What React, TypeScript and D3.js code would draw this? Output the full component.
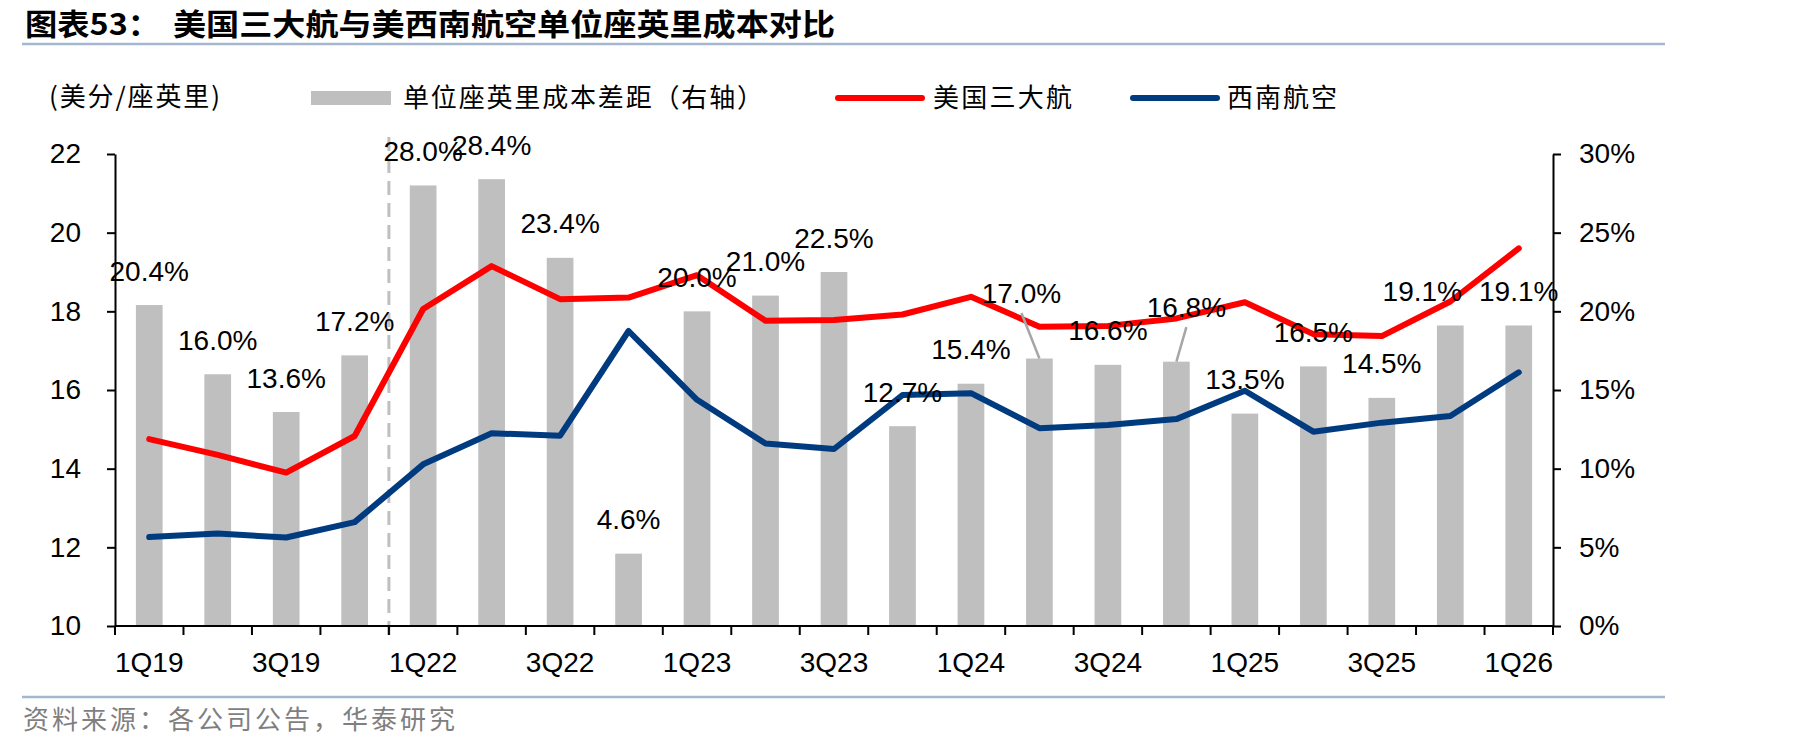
import React, { useRef, useEffect } from 'react';
import * as d3 from 'd3';

// Quarterly data
const categories = [
  '1Q19', '2Q19', '3Q19', '4Q19', '1Q22', '2Q22', '3Q22', '4Q22', '1Q23', '2Q23', '3Q23',
  '4Q23', '1Q24', '2Q24', '3Q24', '4Q24', '1Q25', '2Q25', '3Q25', '4Q25', '1Q26',
];
// unit cost gap, % (right axis)
const costGap = [
  20.4, 16.0, 13.6, 17.2, 28.0, 28.4, 23.4, 4.6, 20.0, 21.0, 22.5,
  12.7, 15.4, 17.0, 16.6, 16.8, 13.5, 16.5, 14.5, 19.1, 19.1,
];
// US big three CASM, cents (left axis)
const bigThree = [
  14.75, 14.35, 13.9, 14.83, 18.06, 19.15, 18.31, 18.35, 18.92, 17.76, 17.78,
  17.92, 18.37, 17.61, 17.63, 17.82, 18.23, 17.42, 17.37, 18.25, 19.6,
];
// Southwest CASM, cents (left axis)
const southwest = [
  12.26, 12.35, 12.25, 12.64, 14.11, 14.9, 14.84, 17.5, 15.75, 14.64, 14.5,
  15.87, 15.92, 15.03, 15.11, 15.26, 15.98, 14.94, 15.17, 15.34, 16.45,
];
const leftTicks = [10, 12, 14, 16, 18, 20, 22];
const rightTicks = [0, 5, 10, 15, 20, 25, 30];

const W = 1819;
const H = 751;
const NUM_FONT = '"Liberation Sans", Arial, sans-serif';
const CJK_FONT = '"Noto Sans CJK SC", sans-serif';
const RED = '#ff0000';
const BLUE = '#003b80';
const GREY = '#bfbfbf';

// hand-placed data labels (offset from default spot above the bar), leader = draw line
const labelNudge: Record<number, { dx: number; dy: number; leader?: boolean }> = {
  13: { dx: -18, dy: -31, leader: true },
  15: { dx: 10, dy: -20, leader: true },
  19: { dx: -28, dy: 0 },
};

const App = () => {
  const svgRef = useRef<SVGSVGElement | null>(null);

  useEffect(() => {
    if (!svgRef.current) return;
    const svg = d3.select(svgRef.current);
    svg.selectAll('*').remove();

    const plot = { left: 115, right: 1553, top: 154, bottom: 626 };

    const x = d3.scaleBand().domain(categories).range([plot.left, plot.right]).padding(0);
    const yL = d3.scaleLinear().domain([10, 22]).range([plot.bottom, plot.top]);
    const yR = d3.scaleLinear().domain([0, 30]).range([plot.bottom, plot.top]);
    const barW = x.bandwidth() * 0.39;
    const cx = (i: number) => (x(categories[i]) as number) + x.bandwidth() / 2;

    // Title
    svg.append('text')
      .attr('x', 25).attr('y', 35)
      .attr('textLength', 135).attr('lengthAdjust', 'spacingAndGlyphs')
      .style('font-family', CJK_FONT).style('font-size', '30px').style('font-weight', 'bold')
      .text('图表53：');
    svg.append('text')
      .attr('x', 173).attr('y', 35)
      .attr('textLength', 662).attr('lengthAdjust', 'spacingAndGlyphs')
      .style('font-family', CJK_FONT).style('font-size', '30px').style('font-weight', 'bold')
      .text('美国三大航与美西南航空单位座英里成本对比');
    svg.append('line')
      .attr('x1', 22).attr('x2', 1665).attr('y1', 44).attr('y2', 44)
      .attr('stroke', '#a3b8cf').attr('stroke-width', 2.5);

    // Legend
    svg.append('text')
      .attr('x', 49).attr('y', 106)
      .attr('textLength', 171).attr('lengthAdjust', 'spacing')
      .style('font-family', CJK_FONT).style('font-size', '26px')
      .text('(美分/座英里)');
    svg.append('rect')
      .attr('x', 311).attr('y', 91).attr('width', 80).attr('height', 14).attr('fill', GREY);
    svg.append('text')
      .attr('x', 403).attr('y', 107)
      .attr('textLength', 360).attr('lengthAdjust', 'spacing')
      .style('font-family', CJK_FONT).style('font-size', '26px')
      .text('单位座英里成本差距（右轴）');
    const lineLegend = [
      { x: 838, tx: 933, len: 139, color: RED, label: '美国三大航' },
      { x: 1133, tx: 1227, len: 110, color: BLUE, label: '西南航空' },
    ];
    lineLegend.forEach((d) => {
      svg.append('line')
        .attr('x1', d.x).attr('x2', d.x + 84).attr('y1', 98).attr('y2', 98)
        .attr('stroke', d.color).attr('stroke-width', 6).attr('stroke-linecap', 'round');
      svg.append('text')
        .attr('x', d.tx).attr('y', 107)
        .attr('textLength', d.len).attr('lengthAdjust', 'spacing')
        .style('font-family', CJK_FONT).style('font-size', '26px')
        .text(d.label);
    });

    const g = svg.append('g');

    // Bars (right axis)
    g.selectAll('.bar')
      .data(costGap)
      .enter()
      .append('rect')
      .attr('x', (d, i) => cx(i) - barW / 2)
      .attr('y', (d) => yR(d))
      .attr('width', barW)
      .attr('height', (d) => plot.bottom - yR(d))
      .attr('fill', GREY);

    // Dashed break between 2019 and 2022
    const breakX = x('1Q22') as number;
    g.append('line')
      .attr('x1', breakX).attr('x2', breakX).attr('y1', 137).attr('y2', 638)
      .attr('stroke', GREY).attr('stroke-width', 3).attr('stroke-dasharray', '14,8');

    // Lines (left axis)
    const line = d3.line<number>().x((d, i) => cx(i)).y((d) => yL(d));
    [{ data: bigThree, color: RED }, { data: southwest, color: BLUE }].forEach((s) => {
      g.append('path')
        .attr('d', line(s.data))
        .attr('fill', 'none')
        .attr('stroke', s.color)
        .attr('stroke-width', 6)
        .attr('stroke-linejoin', 'round')
        .attr('stroke-linecap', 'round');
    });

    // Left axis
    const leftAxis = g.append('g')
      .attr('transform', `translate(${plot.left},0)`)
      .call(d3.axisLeft(yL).tickValues(leftTicks).tickSize(8).tickSizeOuter(0).tickPadding(26));
    // Right axis
    const rightAxis = g.append('g')
      .attr('transform', `translate(${plot.right},0)`)
      .call(d3.axisRight(yR).tickValues(rightTicks).tickSize(8).tickSizeOuter(0).tickPadding(18)
        .tickFormat((d) => `${d}%`));
    [leftAxis, rightAxis].forEach((ax) => {
      ax.select('.domain').attr('stroke', '#000').attr('stroke-width', 2);
      ax.selectAll('.tick line').attr('stroke', '#000').attr('stroke-width', 2);
      ax.selectAll('.tick text')
        .attr('fill', '#000')
        .style('font-family', NUM_FONT)
        .style('font-size', '28px');
    });

    // Bottom axis: ticks on category boundaries, labels every other quarter
    const bounds = categories.map((c) => x(c) as number).concat([plot.right]);
    g.append('line')
      .attr('x1', plot.left).attr('x2', plot.right).attr('y1', plot.bottom).attr('y2', plot.bottom)
      .attr('stroke', '#000').attr('stroke-width', 2);
    g.selectAll('.xtick')
      .data(bounds)
      .enter()
      .append('line')
      .attr('x1', (d) => d).attr('x2', (d) => d)
      .attr('y1', plot.bottom).attr('y2', plot.bottom + 9)
      .attr('stroke', '#000').attr('stroke-width', 2);
    g.selectAll('.xlabel')
      .data(categories.filter((c, i) => i % 2 === 0))
      .enter()
      .append('text')
      .attr('x', (d) => (x(d) as number) + x.bandwidth() / 2)
      .attr('y', 672)
      .attr('text-anchor', 'middle')
      .style('font-family', NUM_FONT)
      .style('font-size', '28px')
      .text((d) => d);

    // Bar data labels
    costGap.forEach((v, i) => {
      const n = labelNudge[i] || { dx: 0, dy: 0 };
      const lx = cx(i) + n.dx;
      const ly = yR(v) - 24.5 + n.dy;
      if (n.leader) {
        g.append('line')
          .attr('x1', lx).attr('y1', ly + 10)
          .attr('x2', cx(i)).attr('y2', yR(v))
          .attr('stroke', '#a6a6a6').attr('stroke-width', 2.5);
      }
      g.append('text')
        .attr('x', lx)
        .attr('y', ly)
        .attr('text-anchor', 'middle')
        .style('font-family', NUM_FONT)
        .style('font-size', '28px')
        .text(`${v.toFixed(1)}%`);
    });

    // Source
    svg.append('line')
      .attr('x1', 22).attr('x2', 1665).attr('y1', 697).attr('y2', 697)
      .attr('stroke', '#a3b8cf').attr('stroke-width', 2.5);
    svg.append('text')
      .attr('x', 23).attr('y', 729)
      .attr('textLength', 432).attr('lengthAdjust', 'spacing')
      .attr('fill', '#7f7f7f')
      .style('font-family', CJK_FONT).style('font-size', '26px')
      .text('资料来源：各公司公告，华泰研究');

    return () => {
      svg.selectAll('*').remove();
    };
  }, []);

  return (
    <svg
      ref={svgRef}
      width={W}
      height={H}
      viewBox={`0 0 ${W} ${H}`}
      style={{ position: 'absolute', left: 0, top: 0, background: '#fff', display: 'block' }}
    />
  );
};

export default App;
